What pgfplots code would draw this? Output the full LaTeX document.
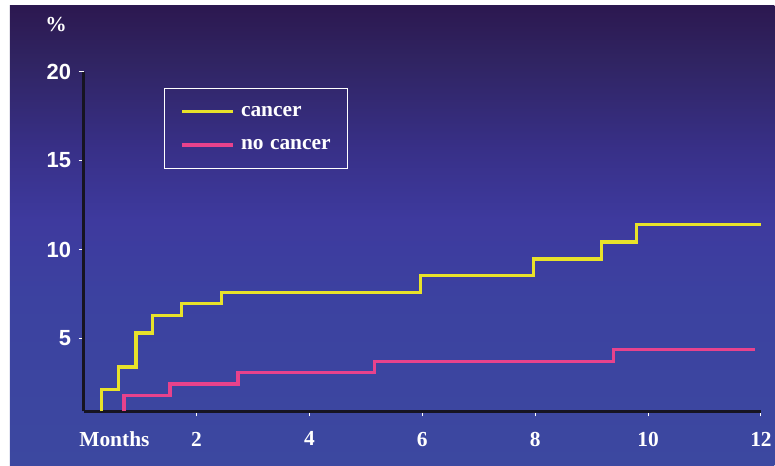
\documentclass[border=0pt]{standalone}
\usepackage{pgfplots}
\pgfplotsset{compat=1.18}
\usepackage{fontspec}
\setmainfont{Liberation Serif}
\newfontfamily\axisfont{Liberation Sans}

\definecolor{cancercol}{RGB}{232,226,42}
\definecolor{nocancercol}{RGB}{232,66,140}
\definecolor{axiscol}{RGB}{22,20,34}
\definecolor{bgA}{RGB}{60,72,160}
\definecolor{bgB}{RGB}{60,66,160}
\definecolor{bgC}{RGB}{62,58,158}
\definecolor{bgD}{RGB}{56,48,136}
\definecolor{bgE}{RGB}{48,36,98}
\definecolor{bgF}{RGB}{44,24,80}

% vertical background shading (visible part runs from 25bp to 75bp)
\pgfdeclareverticalshading{slidebg}{100bp}{%
  color(0bp)=(bgA); color(25bp)=(bgA); color(43bp)=(bgB); color(51.7bp)=(bgC);
  color(59.3bp)=(bgD); color(69.1bp)=(bgE); color(75bp)=(bgF); color(100bp)=(bgF)}

\newcommand{\labfont}{\bfseries\fontsize{21.5}{25}\selectfont}

\begin{document}
\begin{tikzpicture}
  \fill[white] (0bp,0bp) rectangle (775bp,466bp);
  \shade[shading=slidebg] (10bp,0bp) rectangle (775bp,460bp);
  \node[text=white, font=\labfont] at (56bp,441bp) {\%};
  \begin{axis}[
    at={(83.6bp,54.3bp)}, anchor=south west,
    scale only axis, width=678bp, height=340bp,
    xmin=0, xmax=12, ymin=0.9, ymax=20,
    axis x line=bottom, axis y line=left,
    axis line style={-, draw=axiscol, line width=2.5bp},
    tick align=outside, major tick length=5bp,
    tick style={white, line width=1bp},
    xtick={2,4,...,12}, ytick={5,10,15,20},
    /pgf/number format/assume math mode=true,
    xticklabel style={font=\labfont, text=white, yshift=-12bp},
    yticklabel style={font=\axisfont\bfseries\fontsize{22}{26}\selectfont, text=white, xshift=-4bp},
    extra x ticks={0.547}, extra x tick labels={Months},
    extra x tick style={major tick length=0pt, xticklabel style={yshift=-5bp}},
    clip=false,
    legend cell align=left,
    legend style={at={(0.1186,0.952)}, anchor=north west,
      draw=white, line width=0.8bp, fill=none, text=white, font=\labfont,
      inner xsep=16.5bp, inner ysep=13.9bp, row sep=14.3bp, column sep=6bp,
      nodes={inner sep=0pt, text height=14bp, text depth=5bp}},
    legend image code/.code={\draw[#1] (0bp,0bp) -- (51bp,0bp);},
  ]
    % cumulative incidence, cancer patients
    \addplot[const plot, color=cancercol, line width=3.3bp] coordinates {
      (0.320,0.9) (0.320,2.12) (0.614,3.39) (0.927,5.30) (1.223,6.29)
      (1.736,6.95) (2.444,7.59) (5.966,8.52) (7.972,9.46) (9.181,10.42)
      (9.789,11.39) (12.0,11.39)};
    \addlegendentry{cancer}
    % cumulative incidence, patients without cancer
    \addplot[const plot, color=nocancercol, line width=3.3bp] coordinates {
      (0.715,0.9) (0.715,1.78) (1.529,2.44) (2.738,3.09) (5.152,3.71)
      (9.393,4.37) (11.90,4.37)};
    \addlegendentry{no\hspace{0.3em}cancer}
  \end{axis}
\end{tikzpicture}
\end{document}
